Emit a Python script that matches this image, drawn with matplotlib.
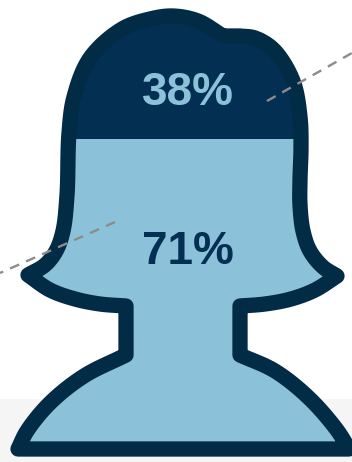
import numpy as np
import matplotlib
matplotlib.use("Agg")
import matplotlib.pyplot as plt
from matplotlib.patches import Polygon, Rectangle

plt.rcParams["font.family"] = ["Liberation Sans", "DejaVu Sans"]

DARK = "#022f52"
EDGE = "#022b45"
LIGHT = "#8bc2da"
GREY = "#8f8b8b"

# silhouette outline, one list per smooth run between corners
hair_left = [(28, 275), (45, 265), (56, 251), (63, 231), (67, 195), (69, 133),
             (74, 97), (90, 58), (122, 29), (150, 19), (173, 16), (198, 21), (223, 36)]
notch = [(223, 36), (240, 36)]
hair_right = [(240, 36), (255, 38), (274, 50), (293, 81), (300, 117), (301, 147), (300, 180),
              (300, 205), (303, 231), (310, 251), (323, 267), (337, 276)]
collar_right = [(337, 276), (315, 290), (291, 299), (265, 304), (240, 306)]
neck_right = [(240, 306), (240, 355)]
shoulder_right = [(240, 355), (275, 371), (309, 398), (337, 430), (349, 449)]
base = [(349, 449), (18, 449)]
shoulder_left = [(18, 449), (27, 431), (50, 403), (84, 376), (126, 355)]
neck_left = [(126, 355), (126, 306)]
collar_left = [(126, 306), (100, 304), (75, 299), (50, 290), (28, 275)]

outline_runs = [hair_left, notch, hair_right, collar_right, neck_right,
                shoulder_right, base, shoulder_left, neck_left, collar_left]

split_y = 139
band_top = 399
labels = ["38%", "71%"]
label_colors = [LIGHT, DARK]
label_x = [187.5, 187.5]
label_y = [93, 252.5]
line_a_x, line_a_y = [267, 352], [101, 53]
line_b_x, line_b_y = [115, 0], [222, 273]


def smooth(run, n=24):
    # centripetal Catmull-Rom through the run's points
    pts = np.array(run, dtype=float)
    if len(pts) < 3:
        return pts
    p = np.vstack([2 * pts[0] - pts[1], pts, 2 * pts[-1] - pts[-2]])
    out = []
    for i in range(1, len(p) - 2):
        p0, p1, p2, p3 = p[i - 1], p[i], p[i + 1], p[i + 2]
        t0 = 0.0
        t1 = t0 + np.linalg.norm(p1 - p0) ** 0.5
        t2 = t1 + np.linalg.norm(p2 - p1) ** 0.5
        t3 = t2 + np.linalg.norm(p3 - p2) ** 0.5
        for t in np.linspace(t1, t2, n, endpoint=False):
            a1 = (t1 - t) / (t1 - t0) * p0 + (t - t0) / (t1 - t0) * p1
            a2 = (t2 - t) / (t2 - t1) * p1 + (t - t1) / (t2 - t1) * p2
            a3 = (t3 - t) / (t3 - t2) * p2 + (t - t2) / (t3 - t2) * p3
            b1 = (t2 - t) / (t2 - t0) * a1 + (t - t0) / (t2 - t0) * a2
            b2 = (t3 - t) / (t3 - t1) * a2 + (t - t1) / (t3 - t1) * a3
            out.append((t2 - t) / (t2 - t1) * b1 + (t - t1) / (t2 - t1) * b2)
    out.append(pts[-1])
    return np.array(out)


outline = np.vstack([smooth(r) for r in outline_runs])

fig = plt.figure(figsize=(3.52, 4.62), dpi=100)
ax = fig.add_axes([0, 0, 1, 1])
ax.set_xlim(0, 352)
ax.set_ylim(462, 0)
ax.axis("off")

ax.add_patch(Rectangle((0, band_top), 352, 462 - band_top, fc="#f5f5f5", ec="none", zorder=0))

# light body, dark part clipped to the top of the head
ax.add_patch(Polygon(outline, closed=True, fc=LIGHT, ec="none", zorder=1))
top = Polygon(outline, closed=True, fc=DARK, ec="none", zorder=2)
ax.add_patch(top)
top.set_clip_path(Rectangle((0, 0), 352, split_y, transform=ax.transData))
ax.add_patch(Polygon(outline, closed=True, fc="none", ec=EDGE, lw=11,
                     joinstyle="round", zorder=3))

for xs, ys in [(line_a_x, line_a_y), (line_b_x, line_b_y)]:
    ax.plot(xs, ys, color=GREY, lw=1.7, dashes=(4.2, 3.2), zorder=4)

for text, color, x, y in zip(labels, label_colors, label_x, label_y):
    ax.text(x, y, text, color=color, fontsize=33, fontweight="bold",
            ha="center", va="center", zorder=5)

fig.savefig("out.png", dpi=100)
